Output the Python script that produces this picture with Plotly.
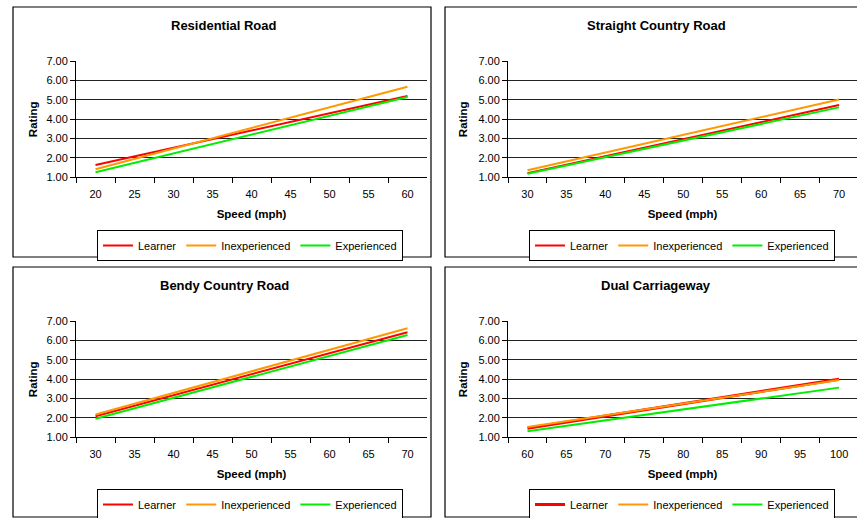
import plotly.graph_objects as go

# ---------------- data ----------------
titles = ["Residential Road", "Straight Country Road", "Bendy Country Road", "Dual Carriageway"]
series_names = ["Learner", "Inexperienced", "Experienced"]

res_speed = ["20", "25", "30", "35", "40", "45", "50", "55", "60"]
res_learner = [1.62, 2.07, 2.51, 2.96, 3.41, 3.86, 4.30, 4.75, 5.20]
res_inexp = [1.40, 1.94, 2.47, 3.01, 3.54, 4.08, 4.61, 5.15, 5.68]
res_exp = [1.25, 1.74, 2.23, 2.71, 3.20, 3.69, 4.18, 4.66, 5.15]

str_speed = ["30", "35", "40", "45", "50", "55", "60", "65", "70"]
str_learner = [1.20, 1.64, 2.08, 2.52, 2.97, 3.41, 3.85, 4.29, 4.73]
str_inexp = [1.35, 1.81, 2.27, 2.73, 3.19, 3.64, 4.10, 4.56, 5.02]
str_exp = [1.17, 1.60, 2.03, 2.46, 2.89, 3.32, 3.75, 4.18, 4.61]

bendy_speed = ["30", "35", "40", "45", "50", "55", "60", "65", "70"]
bendy_learner = [2.08, 2.62, 3.17, 3.71, 4.26, 4.80, 5.34, 5.89, 6.43]
bendy_inexp = [2.17, 2.73, 3.29, 3.85, 4.41, 4.96, 5.52, 6.08, 6.64]
bendy_exp = [1.95, 2.49, 3.04, 3.58, 4.12, 4.66, 5.21, 5.75, 6.29]

dual_speed = ["60", "65", "70", "75", "80", "85", "90", "95", "100"]
dual_learner = [1.45, 1.77, 2.09, 2.41, 2.73, 3.04, 3.36, 3.68, 4.00]
dual_inexp = [1.52, 1.82, 2.13, 2.43, 2.74, 3.04, 3.34, 3.65, 3.95]
dual_exp = [1.30, 1.58, 1.87, 2.15, 2.43, 2.71, 2.99, 3.28, 3.56]

y_ticks = [1, 2, 3, 4, 5, 6, 7]

# ---------------- styling ----------------
W, H = 857, 518
FONT = "Liberation Sans, Arial, sans-serif"
colors = ["#FF0000", "#FF9900", "#00EE00"]


def px(x):
    return x / W


def py(y):
    return 1 - y / H


panels = [
    dict(speed=res_speed, ys=[res_learner, res_inexp, res_exp], widths=[2, 2, 2],
         plot_x=(76, 427), plot_y=(61.3, 177), box=(13, 7, 431, 257), title_xy=(224, 25),
         leg_xy=(250, 230), ytitle_x=33, xrange=[-0.5, 8.5]),
    dict(speed=str_speed, ys=[str_learner, str_inexp, str_exp], widths=[2, 2, 2],
         plot_x=(508, 857), plot_y=(61.3, 177), box=(445, 7, 880, 257), title_xy=(656, 25),
         leg_xy=(682, 230), ytitle_x=463, xrange=[-0.5, 8.46]),
    dict(speed=bendy_speed, ys=[bendy_learner, bendy_inexp, bendy_exp], widths=[2, 2, 2],
         plot_x=(76, 427), plot_y=(321.3, 437), box=(13, 267, 431, 517), title_xy=(224, 285),
         leg_xy=(250, 489), ytitle_x=33, xrange=[-0.5, 8.5]),
    dict(speed=dual_speed, ys=[dual_learner, dual_inexp, dual_exp], widths=[3, 2, 2],
         plot_x=(508, 857), plot_y=(321.3, 437), box=(445, 267, 880, 517), title_xy=(656, 285),
         leg_xy=(682, 489), ytitle_x=463, xrange=[-0.5, 8.46]),
]

fig = go.Figure()
layout = dict(
    width=W, height=H,
    margin=dict(l=0, r=0, t=0, b=0, pad=0, autoexpand=False),
    paper_bgcolor="white", plot_bgcolor="white",
    font=dict(family=FONT, size=11, color="black"),
    shapes=[], annotations=[],
)

for i, p in enumerate(panels):
    n = "" if i == 0 else str(i + 1)
    leg = "legend" + n
    for k in range(3):
        fig.add_trace(go.Scatter(
            x=p["speed"], y=p["ys"][k], name=series_names[k], mode="lines",
            line=dict(color=colors[k], width=p["widths"][k]),
            xaxis="x" + n, yaxis="y" + n, legend=leg, hoverinfo="x+y+name",
        ))
    layout["xaxis" + n] = dict(
        domain=[px(p["plot_x"][0]), px(p["plot_x"][1])], anchor="y" + n,
        type="category", range=p["xrange"], tickson="boundaries",
        ticks="outside", ticklen=5, tickcolor="black", tickwidth=1,
        ticklabelstandoff=7,
        showline=True, linecolor="black", linewidth=1, showgrid=False,
        tickfont=dict(size=11), fixedrange=True, automargin=False,
        title=dict(text="<b>Speed (mph)</b>", font=dict(size=11.5), standoff=10),
    )
    layout["yaxis" + n] = dict(
        domain=[py(p["plot_y"][1]), py(p["plot_y"][0])], anchor="x" + n,
        range=[1, 7], tickvals=y_ticks, tickformat=".2f",
        ticks="outside", ticklen=5, tickcolor="black", tickwidth=1,
        showline=True, linecolor="black", linewidth=1,
        showgrid=True, gridcolor="#222222", gridwidth=1, zeroline=False,
        tickfont=dict(size=11), fixedrange=True, automargin=False,
    )
    # y axis title placed at measured position
    layout["annotations"].append(dict(
        text="<b>Rating</b>", xref="paper", yref="paper",
        x=px(p["ytitle_x"]), y=py((p["plot_y"][0] + p["plot_y"][1]) / 2),
        xanchor="center", yanchor="middle", textangle=-90, showarrow=False,
        font=dict(size=11.5),
    ))
    # chart title
    layout["annotations"].append(dict(
        text="<b>" + titles[i] + "</b>", xref="paper", yref="paper",
        x=px(p["title_xy"][0]), y=py(p["title_xy"][1]),
        xanchor="center", yanchor="middle", showarrow=False,
        font=dict(size=13),
    ))
    # panel border
    b = p["box"]
    layout["shapes"].append(dict(
        type="rect", xref="paper", yref="paper",
        x0=px(b[0]), x1=px(b[2]), y0=py(b[3]), y1=py(b[1]),
        line=dict(color="black", width=1.2), fillcolor="rgba(0,0,0,0)", layer="below",
    ))
    layout[leg] = dict(
        orientation="h", x=px(p["leg_xy"][0]), y=py(p["leg_xy"][1]),
        xanchor="center", yanchor="top",
        bordercolor="black", borderwidth=1, bgcolor="white",
        font=dict(size=11), itemwidth=30, tracegroupgap=0,
    )

fig.update_layout(**layout)
fig.write_html(
    "out.html",
    config={"displayModeBar": False},
    post_script="document.body.style.margin='0px';document.body.style.overflow='hidden';",
)
